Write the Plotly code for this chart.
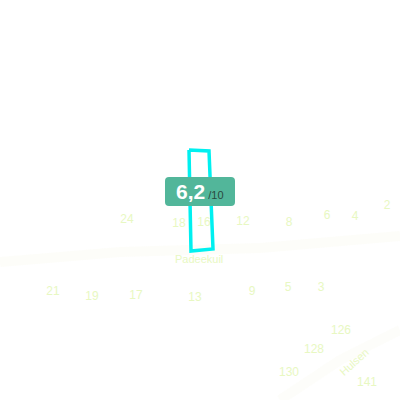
import plotly.graph_objects as go

# House numbers and their map coordinates (pixels in a 400x400 map frame)
house_numbers = ["24", "18", "16", "12", "8", "6", "4", "2",
                 "21", "19", "17", "13", "9", "5", "3",
                 "126", "128", "130", "141"]
house_x = [127, 179, 204, 243, 289, 327, 355, 387,
           53, 92, 136, 195, 252, 288, 321,
           341, 314, 289, 367]
house_y = [220, 224, 223, 222, 223, 216, 217, 206,
           292, 297, 296, 298, 292, 288, 288,
           331, 350, 373, 383]

street_names = ["Padeekuil", "Hulsen"]
street_x = [199, 354]
street_y = [259, 362]
street_angle = [0, -42]

# Highlighted building outline
building_x = [189, 209, 213, 191, 189]
building_y = [150, 151, 249, 251, 150]

score = "6,2"
score_max = "/10"

label_color = "#e8f8c2"

fig = go.Figure()

# faint street lines
fig.add_trace(go.Scatter(x=[0, 120, 260, 400], y=[262, 252, 248, 236], mode="lines",
                         line=dict(color="rgba(250,250,238,0.35)", width=10),
                         hoverinfo="skip", showlegend=False))
fig.add_trace(go.Scatter(x=[280, 340, 400], y=[400, 360, 330], mode="lines",
                         line=dict(color="rgba(250,250,238,0.3)", width=10),
                         hoverinfo="skip", showlegend=False))

fig.add_trace(go.Scatter(x=house_x, y=house_y, text=house_numbers, mode="text",
                         textfont=dict(family="Liberation Sans", size=12, color=label_color),
                         hoverinfo="skip", showlegend=False))

fig.add_trace(go.Scatter(x=building_x, y=building_y, mode="lines",
                         line=dict(color="#00f0f0", width=3.5),
                         hoverinfo="skip", showlegend=False))

for name, sx, sy, ang in zip(street_names, street_x, street_y, street_angle):
    fig.add_annotation(x=sx, y=sy, text=name, showarrow=False, textangle=ang,
                       font=dict(family="Liberation Sans", size=11, color=label_color))

# score badge (rounded rectangle)
x0, x1, y0, y1, r = 165, 235, 177, 206, 4
path = (f"M {x0+r},{y0} L {x1-r},{y0} Q {x1},{y0} {x1},{y0+r} L {x1},{y1-r} "
        f"Q {x1},{y1} {x1-r},{y1} L {x0+r},{y1} Q {x0},{y1} {x0},{y1-r} "
        f"L {x0},{y0+r} Q {x0},{y0} {x0+r},{y0} Z")
fig.add_shape(type="path", path=path, fillcolor="#52b69a", line=dict(width=0), layer="above")
fig.add_annotation(x=200, y=191.5, showarrow=False,
                   text=f"<b><span style='font-size:21px;color:white'>{score}</span></b>"
                        f"<span style='font-size:11px;color:#2a4a40'>&nbsp;{score_max}</span>",
                   font=dict(family="Liberation Sans", size=21, color="white"))

fig.update_layout(width=400, height=400, margin=dict(l=0, r=0, t=0, b=0),
                  paper_bgcolor="white", plot_bgcolor="white",
                  xaxis=dict(range=[0, 400], visible=False, fixedrange=True),
                  yaxis=dict(range=[400, 0], visible=False, fixedrange=True))

fig.write_html("out.html", config={"displayModeBar": False},
               post_script="document.body.style.margin='0';document.body.style.overflow='hidden';")
